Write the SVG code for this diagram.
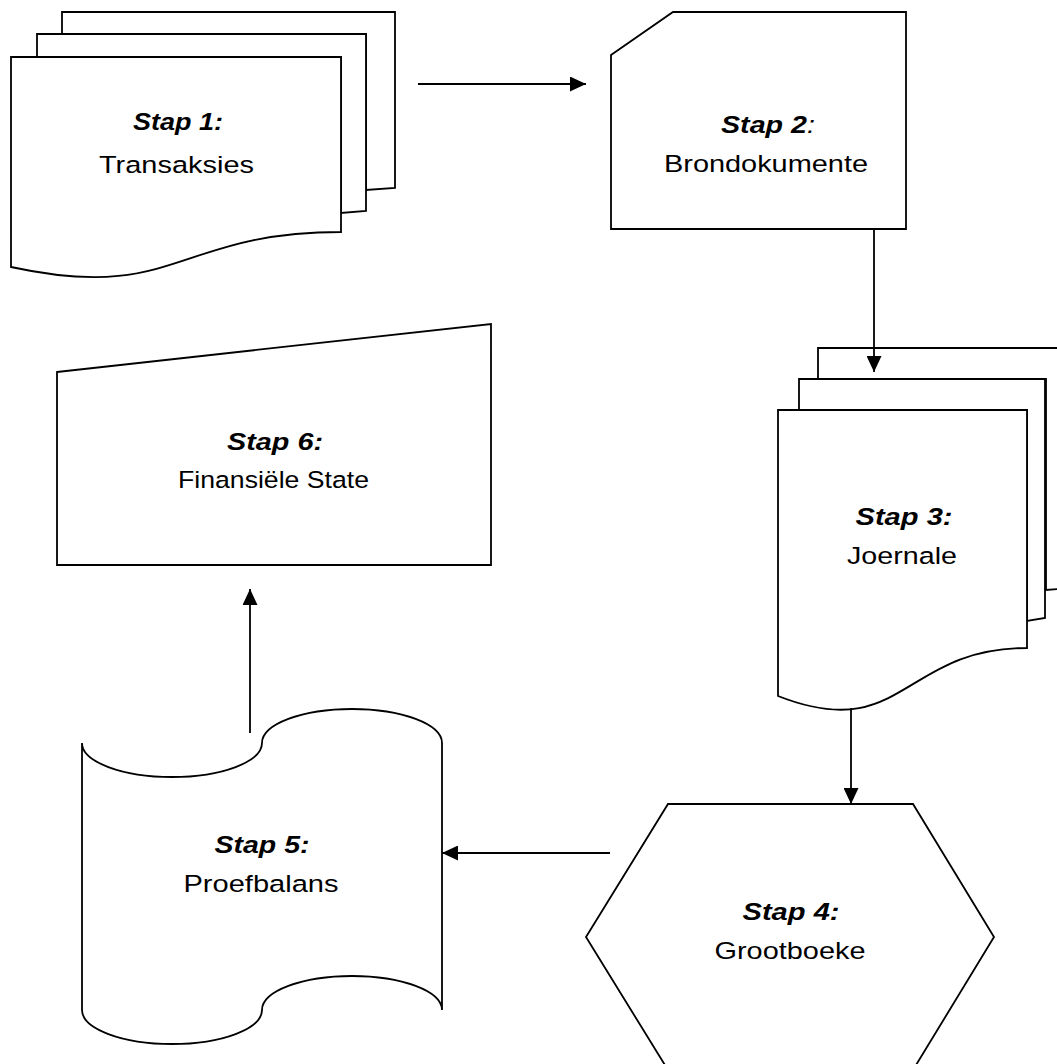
<svg xmlns="http://www.w3.org/2000/svg" width="1057" height="1064" viewBox="0 0 1057 1064">
<style>
.s{fill:#fff;stroke:#000;stroke-width:1.8;stroke-linejoin:miter}
.c{fill:none;stroke:#000;stroke-width:1.8}
.t{font-family:"Liberation Sans",Arial,sans-serif;font-size:24.5px;fill:#000;text-anchor:middle}
.b{font-weight:bold;font-style:italic}
.n{font-weight:normal}
</style>
<defs>
<marker id="ah" markerUnits="userSpaceOnUse" markerWidth="16" markerHeight="15" refX="16" refY="7.5" orient="auto">
<path d="M0,0 L16,7.5 L0,15 z" fill="#000"/>
</marker>
</defs>
<g id="stap1">
<path class="s" d="M62,34 V12 H395 V188 L366,190 V34 Z"/>
<path class="s" d="M37,57 V34 H366 V211 L341,213 V57 Z"/>
<path class="s" d="M11,57 H341 V232 C176,232 176,303 11,267 Z"/>
<text class="t b" x="178" y="130" textLength="90" lengthAdjust="spacingAndGlyphs">Stap 1:</text>
<text class="t" x="176.5" y="173" textLength="155" lengthAdjust="spacingAndGlyphs">Transaksies</text>
</g>
<g id="stap2">
<path class="s" d="M673,12 H906 V229 H611 V55 Z"/>
<text class="t b" x="768" y="133" textLength="94" lengthAdjust="spacingAndGlyphs">Stap 2<tspan class="n">:</tspan></text>
<text class="t" x="766" y="172" textLength="204" lengthAdjust="spacingAndGlyphs">Brondokumente</text>
</g>
<g id="stap3">
<path class="s" d="M818,379 V348 H1070 V588 L1046,590 V379 Z"/>
<path class="s" d="M799,410 V379 H1045 V618 L1027,621 V410 Z"/>
<path class="s" d="M778,410 H1027 V648 C902.5,648 902.5,745 778,696 Z"/>
<text class="t b" x="904" y="525" textLength="97" lengthAdjust="spacingAndGlyphs">Stap 3:</text>
<text class="t" x="902" y="564" textLength="110" lengthAdjust="spacingAndGlyphs">Joernale</text>
</g>
<g id="stap4">
<path class="s" d="M668,804 H913 L994,937 L913,1070 H668 L586,937 Z"/>
<text class="t b" x="791" y="920" textLength="97" lengthAdjust="spacingAndGlyphs">Stap 4:</text>
<text class="t" x="790" y="959" textLength="151" lengthAdjust="spacingAndGlyphs">Grootboeke</text>
</g>
<g id="stap5">
<path class="s" d="M82,743 A90,34 0 0 0 262,743 A90,34 0 0 1 442,743 V1010 A90,34 0 0 0 262,1010 A90,34 0 0 1 82,1010 Z"/>
<text class="t b" x="262" y="853" textLength="95" lengthAdjust="spacingAndGlyphs">Stap 5:</text>
<text class="t" x="261" y="892" textLength="155" lengthAdjust="spacingAndGlyphs">Proefbalans</text>
</g>
<g id="stap6">
<path class="s" d="M57,372 L491,324 V565 H57 Z"/>
<text class="t b" x="275" y="450" textLength="96" lengthAdjust="spacingAndGlyphs">Stap 6:</text>
<text class="t" x="273.5" y="488" textLength="191" lengthAdjust="spacingAndGlyphs">Finansiële State</text>
</g>
<g id="connectors">
<line class="c" x1="418" y1="84" x2="586" y2="84" marker-end="url(#ah)"/>
<line class="c" x1="874" y1="229" x2="874" y2="372" marker-end="url(#ah)"/>
<line class="c" x1="851" y1="708" x2="851" y2="804" marker-end="url(#ah)"/>
<line class="c" x1="610" y1="853" x2="442" y2="853" marker-end="url(#ah)"/>
<line class="c" x1="250" y1="733" x2="250" y2="589" marker-end="url(#ah)"/>
</g>
</svg>
